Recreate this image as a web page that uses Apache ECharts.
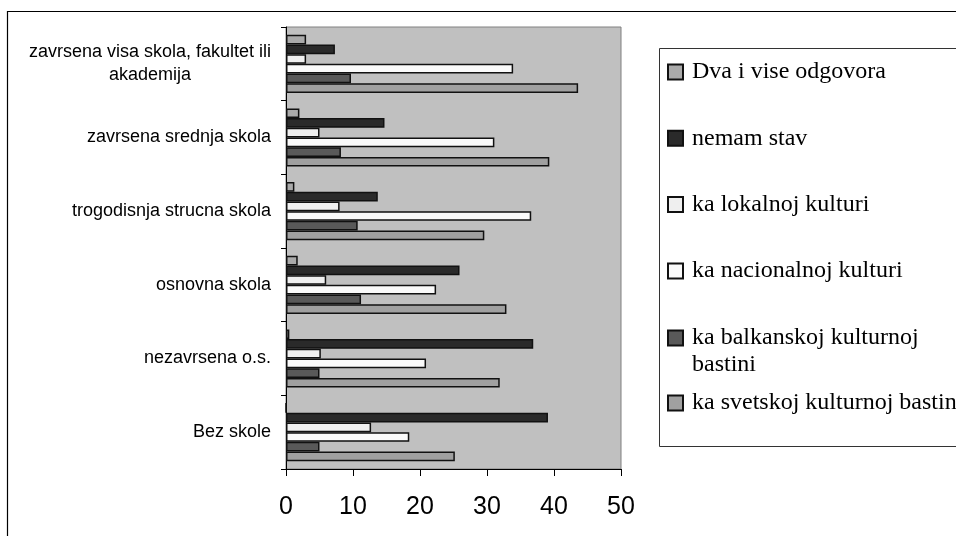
<!DOCTYPE html>
<html>
<head>
<meta charset="utf-8">
<script src="https://cdn.jsdelivr.net/npm/echarts@6/dist/echarts.min.js"></script>
<style>html,body{margin:0;padding:0;background:#fff;}#c{width:956px;height:536px;}</style>
</head>
<body>
<div id="c"></div>
<script>
var categories = ['Bez skole', 'nezavrsena o.s.', 'osnovna skola', 'trogodisnja strucna skola', 'zavrsena srednja skola', 'zavrsena visa skola, fakultet ili akademija'];
var seriesNames = ['Dva i vise odgovora', 'nemam stav', 'ka lokalnoj kulturi', 'ka nacionalnoj kulturi', 'ka balkanskoj kulturnoj bastini', 'ka svetskoj kulturnoj bastini'];
var dvaIVise = [0, 0.5, 1.75, 1.25, 2.0, 3.0];
var nemamStav = [39.1, 36.9, 25.9, 13.7, 14.7, 7.3];
var lokalna = [12.7, 5.2, 6.0, 8.0, 5.0, 3.0];
var nacionalna = [18.4, 20.9, 22.4, 36.6, 31.1, 33.9];
var balkanska = [5.0, 5.0, 11.2, 10.7, 8.2, 9.7];
var svetska = [25.2, 31.9, 32.9, 29.6, 39.3, 43.6];
var xTicks = [0, 10, 20, 30, 40, 50];

var colors = ['#aaaaaa', '#2a2a2a', '#efefef', '#fafafa', '#595959', '#a0a0a0'];
var values = [dvaIVise, nemamStav, lokalna, nacionalna, balkanska, svetska];

var series = seriesNames.map(function (n, i) {
  return {
    name: n, type: 'bar', data: values[i],
    barGap: '0%', barCategoryGap: '21%',
    itemStyle: { color: colors[i], borderColor: '#111', borderWidth: 1.5 },
    emphasis: { disabled: true }, animation: false
  };
});

var legendText = { fontFamily: 'Liberation Serif', fontSize: 24, lineHeight: 27, color: '#000', padding: [0, 0, 0, 4] };
function mkLegend(names, top, extra) {
  return Object.assign({
    orient: 'vertical', left: 667, top: top, padding: 0, itemGap: 39.3,
    itemWidth: 15, itemHeight: 15, icon: 'rect', selectedMode: false,
    textStyle: legendText,
    data: names
  }, extra || {});
}

var chart = echarts.init(document.getElementById('c'));
chart.setOption({
  animation: false,
  graphic: [
    { type: 'rect', shape: { x: 7.5, y: 11.5, width: 1000, height: 600 }, style: { fill: 'none', stroke: '#000', lineWidth: 1.2 }, silent: true },
    { type: 'rect', shape: { x: 659.5, y: 48.5, width: 400, height: 398 }, style: { fill: '#fff', stroke: '#333', lineWidth: 1 }, silent: true, z: -1 }
  ],
  grid: { left: 286, right: 335, top: 27, bottom: 67, show: true, backgroundColor: '#c0c0c0', borderColor: '#808080', borderWidth: 1 },
  legend: [
    mkLegend(seriesNames.slice(0, 4), 58.5),
    mkLegend([seriesNames[4]], 297.5, {
      formatter: function () { return '\nka balkanskoj kulturnoj\nbastini'; }
    }),
    mkLegend([seriesNames[5]], 389.5)
  ],
  xAxis: {
    type: 'value', min: xTicks[0], max: xTicks[xTicks.length - 1], interval: 10,
    splitLine: { show: false },
    axisLine: { show: true, lineStyle: { color: '#000', width: 1 } },
    axisTick: { show: true, length: 7, lineStyle: { color: '#000' } },
    axisLabel: { fontFamily: 'Liberation Sans', fontSize: 25, color: '#000', margin: 26 }
  },
  yAxis: {
    type: 'category', data: categories,
    axisLine: { show: true, lineStyle: { color: '#000', width: 1 } },
    axisTick: { show: true, length: 5, lineStyle: { color: '#000' } },
    axisLabel: {
      fontFamily: 'Liberation Sans', fontSize: 18, color: '#000', margin: 15, lineHeight: 23,
      formatter: function (v) {
        if (v.indexOf('akademija') >= 0) return '{c|zavrsena visa skola, fakultet ili}\n{c|akademija}';
        return v;
      },
      rich: { c: { align: 'center', fontFamily: 'Liberation Sans', fontSize: 18, lineHeight: 23, color: '#000' } }
    }
  },
  series: series
});
</script>
</body>
</html>
